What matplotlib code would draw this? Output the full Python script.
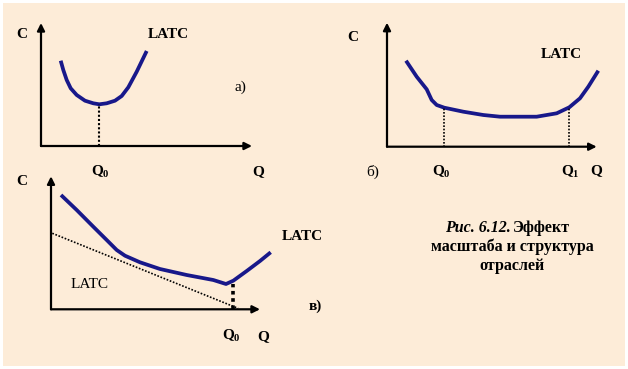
import matplotlib.pyplot as plt
import numpy as np

plt.rcParams['font.family'] = ['Liberation Serif', 'DejaVu Serif']
plt.rcParams['mathtext.fontset'] = 'custom'
plt.rcParams['mathtext.rm'] = 'Liberation Serif'
plt.rcParams['mathtext.bf'] = 'Liberation Serif:bold'

# panel a) - U-shaped LATC
q_a = [1.97, 2.23, 2.57, 2.97, 3.57, 4.4, 5.23, 5.83, 6.57, 7.4, 8.07, 8.73, 9.57, 10.57]
c_a = [8.53, 7.6, 6.6, 5.77, 5.1, 4.53, 4.27, 4.17, 4.27, 4.53, 5.0, 5.87, 7.43, 9.5]
q0_a = 5.83

# panel б) - flat bottom
q_b = [1.9, 2.97, 3.97, 4.47, 4.97, 5.73, 7.63, 9.63, 11.3, 14.97, 16.97, 18.23, 19.3, 20.13, 21.13]
c_b = [8.6, 7.0, 5.74, 4.67, 4.17, 3.9, 3.5, 3.17, 3.0, 3.0, 3.34, 3.94, 4.84, 6.0, 7.6]
q0_b, q1_b = 5.73, 18.23

# panel в) - falling LATC
q_c = [1.0, 2.57, 4.23, 5.57, 6.57, 7.4, 8.9, 10.9, 13.57, 16.23, 17.5, 18.23, 19.57, 20.9, 21.97]
c_c = [11.43, 9.93, 8.26, 6.93, 5.93, 5.36, 4.7, 4.03, 3.43, 2.93, 2.53, 2.86, 3.83, 4.83, 5.7]
tangent_q = [0.13, 18.7]
tangent_c = [7.6, 0.1]
q0_c = 18.23

W, H = 628, 369
bg = '#fdecd8'
navy = '#18188a'
fig = plt.figure(figsize=(W / 100, H / 100), dpi=100)
fig.patch.set_facecolor('white')
back = fig.add_axes([3 / W, 3 / H, (W - 6) / W, (H - 6) / H])
back.set_facecolor(bg)
back.set_xticks([])
back.set_yticks([])
for s in back.spines.values():
    s.set_visible(False)


def panel(ox, oy, qmax, cmax):
    # origin in pixels (from top left), 10 px per unit
    ax = fig.add_axes([ox / W, 1 - oy / H, qmax * 10 / W, cmax * 10 / H])
    ax.set_xlim(0, qmax)
    ax.set_ylim(0, cmax)
    ax.axis('off')
    return ax


def axes_arrows(ax, xend, yend):
    kw = dict(arrowstyle='-|>', lw=1.6, color='black', mutation_scale=11, shrinkA=0, shrinkB=0)
    ax.annotate('', xy=(xend, 0), xytext=(0, 0), arrowprops=kw, annotation_clip=False)
    ax.annotate('', xy=(0, yend), xytext=(0, 0), arrowprops=kw, annotation_clip=False)


txt = dict(fontsize=11, fontweight='bold', ha='center', va='center')
q0 = r'$\mathbf{Q_0}$'

# a)
ax = panel(41, 146, 22, 13)
axes_arrows(ax, 21.1, 12.3)
ax.plot(q_a, c_a, color=navy, lw=2.7, solid_capstyle='butt', clip_on=False)
ax.plot([q0_a, q0_a], [0, min(c_a)], color='black', lw=1.5, ls=(0, (1, 1)))
ax.text(-1.9, 11.1, 'C', **txt)
ax.text(12.7, 11.1, 'LATC', **txt)
ax.text(19.9, 5.9, 'a)', fontsize=11, ha='center', va='center')
ax.text(5.9, -2.6, q0, **txt)
ax.text(21.7, -2.6, 'Q', **txt)

# б)
ax = panel(387, 146.7, 22, 13)
axes_arrows(ax, 20.97, 12.4)
ax.plot(q_b, c_b, color=navy, lw=2.7, solid_capstyle='butt', clip_on=False)
for qq in (q0_b, q1_b):
    ax.plot([qq, qq], [0, np.interp(qq, q_b, c_b)], color='black', lw=1.2, ls=(0, (1, 1)))
ax.text(-3.4, 10.9, 'C', **txt)
ax.text(17.4, 9.2, 'LATC', **txt)
ax.text(-1.4, -2.5, 'б)', fontsize=11, ha='center', va='center')
ax.text(5.4, -2.5, q0, **txt)
ax.text(18.3, -2.5, r'$\mathbf{Q_1}$', **txt)
ax.text(20.9, -2.4, 'Q', **txt)

# в)
ax = panel(51, 309.3, 22, 14)
axes_arrows(ax, 20.9, 13.3)
ax.plot(q_c, c_c, color=navy, lw=2.7, solid_capstyle='butt', clip_on=False)
ax.plot(tangent_q, tangent_c, color='black', lw=1.2, ls=(0, (1, 1)))
ax.plot([q0_c, q0_c], [0, min(c_c)], color='black', lw=2.6, ls=(0, (1, 1)))
ax.text(-2.9, 12.8, 'C', **txt)
ax.text(3.9, 2.5, 'LATC', fontsize=11, ha='center', va='center')
ax.text(25.1, 7.3, 'LATC', **txt)
ax.text(26.4, 0.3, 'в)', **txt)
ax.text(18.0, -2.7, q0, **txt)
ax.text(21.2, -2.7, 'Q', **txt)

# caption
fig.text(511 / W, 1 - 228 / H, 'Рис. 6.12.', fontsize=11.5, ha='right', va='center',
         fontstyle='italic', fontweight='bold')
fig.text(513 / W, 1 - 228 / H, 'Эффект', fontsize=11.5, ha='left', va='center', fontweight='bold')
fig.text(512 / W, 1 - 247 / H, 'масштаба и структура', fontsize=11.5, ha='center', va='center', fontweight='bold')
fig.text(512 / W, 1 - 266 / H, 'отраслей', fontsize=11.5, ha='center', va='center', fontweight='bold')

fig.savefig('out.png', dpi=100, facecolor=fig.get_facecolor())
